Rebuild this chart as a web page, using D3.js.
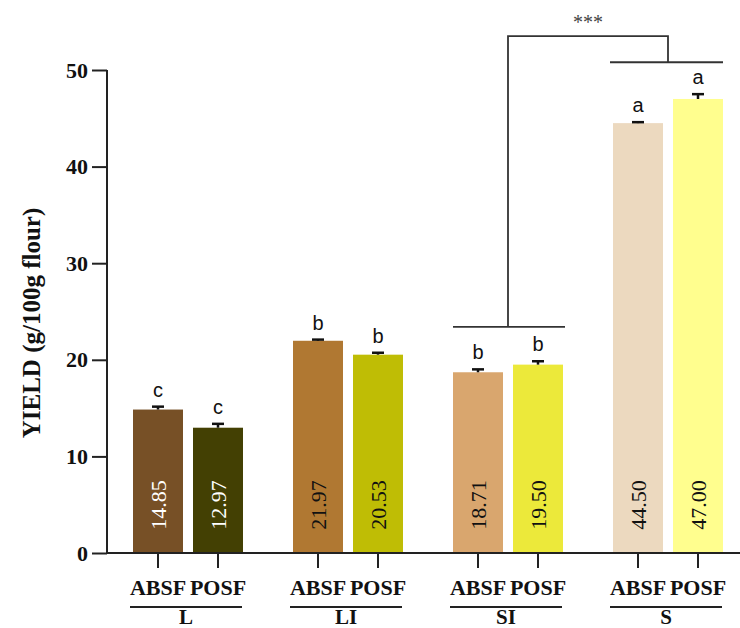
<!DOCTYPE html>
<html>
<head>
<meta charset="utf-8">
<script src="https://cdn.jsdelivr.net/npm/d3@7"></script>
<style>
  body { margin: 0; background: #fff; }
  svg { display: block; }
</style>
</head>
<body>
<svg id="chart" width="740" height="628"></svg>
<script>
// data
const groups = ["L", "LI", "SI", "S"];
const flours = ["ABSF", "POSF"];
const yieldValues = [14.85, 12.97, 21.97, 20.53, 18.71, 19.50, 44.50, 47.00];
const yieldErrors = [0.3, 0.4, 0.12, 0.2, 0.3, 0.35, 0.1, 0.5];
const letters = ["c", "c", "b", "b", "b", "b", "a", "a"];
const barColors = ["#775026", "#434003", "#b07832", "#bfbd05", "#d9a66e", "#ece93a", "#ecd9bf", "#fffe8e"];
const labelColors = ["#fff", "#fff", "#111", "#111", "#111", "#111", "#111", "#111"];
const yTicks = [0, 10, 20, 30, 40, 50];
// significance bracket: SI level, top level, S level (in y units)
const bracketLevels = [23.4, 53.5, 50.8];
const bracketText = "***";

const serif = "'Liberation Serif', 'Times New Roman', serif";
const svg = d3.select("#chart");

const y = d3.scaleLinear().domain([0, 50]).range([553, 70]);
const xGroup = d3.scaleBand().domain(groups).range([108, 748]);
const xSub = d3.scaleBand().domain(flours).range([25, 135]).paddingInner(1 / 6);

let bars = [];
groups.forEach((g, gi) => {
    flours.forEach((f, fi) => {
        let i = gi * 2 + fi;
        bars.push({ group: g, flour: f, value: yieldValues[i], err: yieldErrors[i],
            letter: letters[i], color: barColors[i], label: labelColors[i] });
    });
});
const cx = d => xGroup(d.group) + xSub(d.flour) + xSub.bandwidth() / 2;

// bars
svg.append("g").selectAll("rect")
    .data(bars)
    .join("rect")
    .attr("x", d => xGroup(d.group) + xSub(d.flour))
    .attr("y", d => y(d.value))
    .attr("width", xSub.bandwidth())
    .attr("height", d => y(0) - y(d.value))
    .attr("fill", d => d.color);

// error bars (upper only)
let eb = svg.append("g").attr("stroke", "#111").attr("stroke-width", 2.5);
eb.selectAll("line.v")
    .data(bars)
    .join("line")
    .attr("class", "v")
    .attr("x1", cx).attr("x2", cx)
    .attr("y1", d => y(d.value)).attr("y2", d => y(d.value + d.err));
eb.selectAll("line.cap")
    .data(bars)
    .join("line")
    .attr("class", "cap")
    .attr("x1", d => cx(d) - 6).attr("x2", d => cx(d) + 6)
    .attr("y1", d => y(d.value + d.err)).attr("y2", d => y(d.value + d.err));

// significance letters
svg.append("g").selectAll("text")
    .data(bars)
    .join("text")
    .attr("x", cx)
    .attr("y", d => y(d.value + d.err) - 10)
    .attr("text-anchor", "middle")
    .style("font-family", "'Liberation Sans', Arial, sans-serif")
    .style("font-size", "20px")
    .attr("fill", "#111")
    .text(d => d.letter);

// value labels inside bars
svg.append("g").selectAll("text")
    .data(bars)
    .join("text")
    .attr("transform", d => "translate(" + cx(d) + "," + 505 + ") rotate(-90)")
    .attr("text-anchor", "middle")
    .attr("dy", "0.35em")
    .style("font-family", serif)
    .style("font-size", "22px")
    .attr("fill", d => d.label)
    .text(d => d.value.toFixed(2));

// y axis
let yAxis = svg.append("g")
    .attr("transform", "translate(107,0)")
    .call(d3.axisLeft(y).tickValues(yTicks).tickSize(15).tickPadding(4));
yAxis.select(".domain").attr("stroke", "#222").attr("stroke-width", 2).attr("d", "M0," + y(50) + "V" + y(0));
yAxis.selectAll(".tick line").attr("stroke", "#222").attr("stroke-width", 2);
yAxis.selectAll(".tick text")
    .style("font-family", serif)
    .style("font-weight", "bold")
    .style("font-size", "22px")
    .attr("fill", "#111");

// x axis baseline
svg.append("line")
    .attr("x1", 106).attr("x2", 740)
    .attr("y1", y(0)).attr("y2", y(0))
    .attr("stroke", "#222").attr("stroke-width", 2);

// bottom ticks and labels per group
groups.forEach(g => {
    let ax = svg.append("g")
        .attr("transform", "translate(" + xGroup(g) + "," + y(0) + ")")
        .call(d3.axisBottom(xSub).tickSize(15).tickPadding(11));
    ax.select(".domain").remove();
    ax.selectAll(".tick line").attr("stroke", "#222").attr("stroke-width", 2);
    ax.selectAll(".tick text")
        .style("font-family", serif)
        .style("font-weight", "bold")
        .style("font-size", "22px")
        .attr("fill", "#111");

    let mid = xGroup(g) + 80;
    svg.append("line")
        .attr("x1", mid - 58).attr("x2", mid + 54)
        .attr("y1", 607).attr("y2", 607)
        .attr("stroke", "#222").attr("stroke-width", 2);
    svg.append("text")
        .attr("x", mid - 2).attr("y", 624)
        .attr("text-anchor", "middle")
        .style("font-family", serif)
        .style("font-weight", "bold")
        .style("font-size", "21px")
        .attr("fill", "#111")
        .text(g);
});

// y title
svg.append("text")
    .attr("transform", "translate(40,323) rotate(-90)")
    .attr("text-anchor", "middle")
    .style("font-family", serif)
    .style("font-weight", "bold")
    .style("font-size", "25px")
    .attr("fill", "#111")
    .text("YIELD (g/100g flour)");

// significance bracket between SI and S
const siL = xGroup("SI") + xSub("ABSF"), siR = xGroup("SI") + xSub("POSF") + xSub.bandwidth();
const sL = xGroup("S") + xSub("ABSF"), sR = xGroup("S") + xSub("POSF") + xSub.bandwidth();
const siMid = (siL + siR) / 2, sMid = (sL + sR) / 2;
let br = svg.append("g").attr("stroke", "#333").attr("stroke-width", 1.8).attr("fill", "none");
br.append("line").attr("x1", siL).attr("x2", siR + 2).attr("y1", y(bracketLevels[0])).attr("y2", y(bracketLevels[0]));
br.append("line").attr("x1", sL - 3).attr("x2", sR).attr("y1", y(bracketLevels[2])).attr("y2", y(bracketLevels[2]));
br.append("path")
    .attr("d", "M" + siMid + "," + y(bracketLevels[0]) + "V" + y(bracketLevels[1]) +
        "H" + sMid + "V" + y(bracketLevels[2]));
svg.append("text")
    .attr("x", (siMid + sMid) / 2).attr("y", 29)
    .attr("text-anchor", "middle")
    .style("font-family", serif)
    .style("font-size", "20px")
    .attr("fill", "#444")
    .text(bracketText);
</script>
</body>
</html>
